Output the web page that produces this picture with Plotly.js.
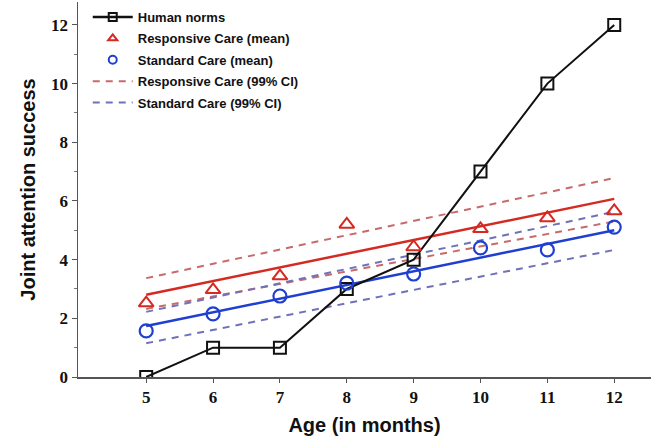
<!DOCTYPE html>
<html><head><meta charset="utf-8">
<script src="https://cdn.plot.ly/plotly-3.0.1.min.js"></script>
<style>body{margin:0;background:#fff}#c{width:651px;height:440px}</style>
</head><body><div id="c"></div>
<script>
const ages = [5, 6, 7, 8, 9, 10, 11, 12];
const humanNorms = [0, 1, 1, 3, 4, 7, 10, 12];
const responsiveMean = [2.52, 2.97, 3.44, 5.2, 4.43, 5.05, 5.42, 5.66];
const standardMean = [1.57, 2.15, 2.76, 3.2, 3.51, 4.4, 4.33, 5.11];
const fitAges = [5, 12];
const responsiveFit = [2.8, 6.07];
const standardFit = [1.74, 5.0];
const responsiveCIUpper = [3.37, 6.78];
const responsiveCILower = [2.32, 5.3];
const standardCIUpper = [2.22, 5.63];
const standardCILower = [1.15, 4.33];
const xTicks = [5, 6, 7, 8, 9, 10, 11, 12];
const yTicks = [0, 2, 4, 6, 8, 10, 12];
const seriesNames = ['Human norms', 'Responsive Care (mean)', 'Standard Care (mean)', 'Responsive Care (99% CI)', 'Standard Care (99% CI)'];

const red = '#d42a22', blue = '#1f3fd0';
const redDash = '#c96a6a', blueDash = '#6f72b8';
const dash = '7px,6px';

const traces = [
  {x: fitAges, y: responsiveCIUpper, mode: 'lines', line: {color: redDash, width: 2, dash: dash}, showlegend: false},
  {x: fitAges, y: responsiveCILower, mode: 'lines', line: {color: redDash, width: 2, dash: dash}, showlegend: false},
  {x: fitAges, y: standardCIUpper, mode: 'lines', line: {color: blueDash, width: 2, dash: dash}, showlegend: false},
  {x: fitAges, y: standardCILower, mode: 'lines', line: {color: blueDash, width: 2, dash: dash}, showlegend: false},
  {x: fitAges, y: responsiveFit, mode: 'lines', line: {color: red, width: 2.5}, showlegend: false},
  {x: fitAges, y: standardFit, mode: 'lines', line: {color: blue, width: 2.5}, showlegend: false},
  {x: ages, y: humanNorms, mode: 'lines+markers', line: {color: '#111', width: 2}, showlegend: false,
   marker: {symbol: 'square-open', size: 12, color: '#111', line: {width: 2, color: '#111'}}},
  {x: ages, y: responsiveMean, mode: 'markers', showlegend: false,
   marker: {symbol: 'triangle-up-open', size: 13, color: red, line: {width: 2, color: red}}},
  {x: ages, y: standardMean, mode: 'markers', showlegend: false,
   marker: {symbol: 'circle-open', size: 13, color: blue, line: {width: 2.2, color: blue}}},
  // legend entries
  {x: [null], y: [null], name: seriesNames[0], legendgroup: 'a', mode: 'lines+markers', line: {color: '#111', width: 2.5},
   marker: {symbol: 'square-open', size: 8, color: '#111', line: {width: 2, color: '#111'}}},
  {x: [null], y: [null], name: seriesNames[1], legendgroup: 'b', mode: 'markers',
   marker: {symbol: 'triangle-up-open', size: 8, color: red, line: {width: 2, color: red}}},
  {x: [null], y: [null], name: seriesNames[2], legendgroup: 'c', mode: 'markers',
   marker: {symbol: 'circle-open', size: 8, color: blue, line: {width: 2, color: blue}}},
  {x: [null], y: [null], name: seriesNames[3], legendgroup: 'd', mode: 'lines', line: {color: redDash, width: 2, dash: dash}},
  {x: [null], y: [null], name: seriesNames[4], legendgroup: 'e', mode: 'lines', line: {color: blueDash, width: 2, dash: dash}}
];

const tickFont = {family: 'Liberation Serif', size: 17, color: '#111', weight: 'bold'};
const layout = {
  width: 651, height: 440,
  margin: {l: 78, r: 0, t: 2, b: 63},
  paper_bgcolor: '#fff', plot_bgcolor: '#fff',
  showlegend: true, hovermode: false,
  legend: {x: 0.017, y: 1.0, xanchor: 'left', yanchor: 'top', bgcolor: 'rgba(0,0,0,0)',
    font: {family: 'Liberation Sans', size: 13, color: '#111', weight: 'bold'}, tracegroupgap: 1.5, itemwidth: 40},
  xaxis: {range: [3.98, 12.55], tickvals: xTicks, ticktext: xTicks.map(String), showgrid: false, zeroline: false,
    showline: true, linecolor: '#555', linewidth: 1.5, ticks: 'outside', ticklen: 4, tickcolor: '#555',
    tickfont: tickFont,
    title: {text: 'Age (in months)', font: {family: 'Liberation Sans', size: 20, color: '#111', weight: 'bold'}, standoff: 12}},
  yaxis: {range: [0, 12.78], tickvals: yTicks, ticktext: yTicks.map(String), showgrid: false, zeroline: false,
    showline: true, linecolor: '#555', linewidth: 1.5, ticks: 'outside', ticklen: 5, tickcolor: '#555',
    minor: {dtick: 1, tick0: 1, ticks: 'outside', ticklen: 3, tickcolor: '#777'},
    tickfont: tickFont,
    title: {text: 'Joint attention success', font: {family: 'Liberation Sans', size: 20, color: '#111', weight: 'bold'}, standoff: 10}}
};
Plotly.newPlot('c', traces, layout, {staticPlot: true});
</script></body></html>
